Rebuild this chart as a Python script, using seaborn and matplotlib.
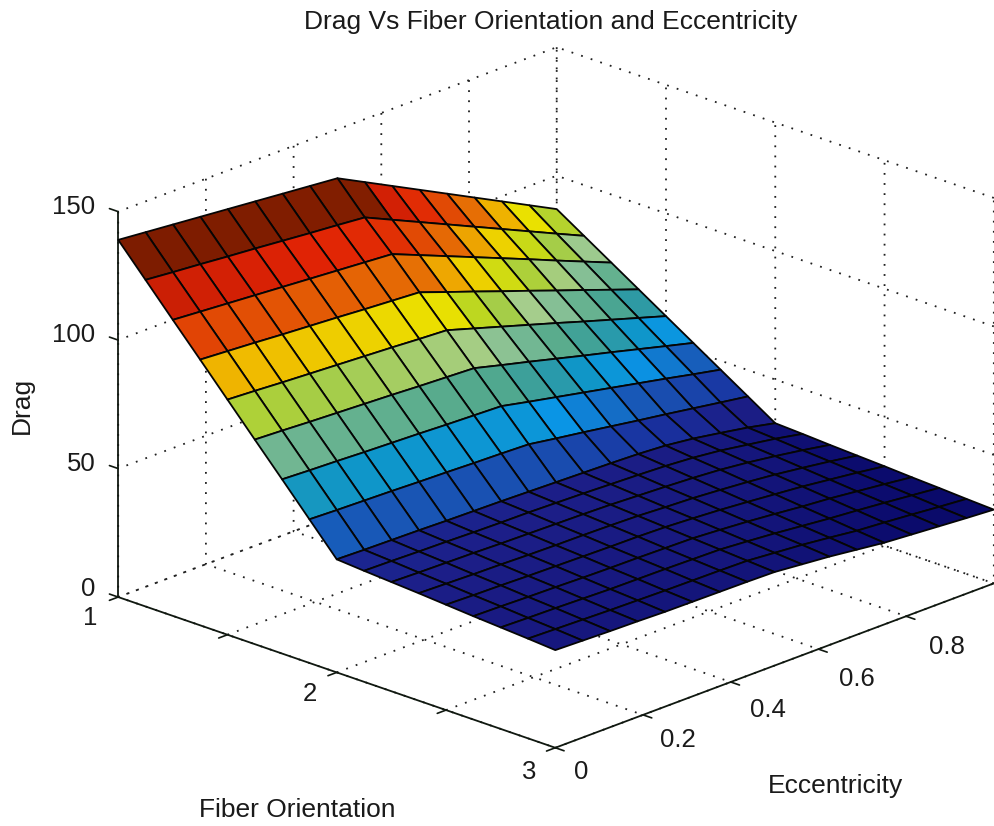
import matplotlib
matplotlib.use("Agg")
import matplotlib.pyplot as plt
import seaborn as sns
import numpy as np
from matplotlib.colors import LinearSegmentedColormap, Normalize
from mpl_toolkits.mplot3d import proj3d

fiber = [1, 1.125, 1.25, 1.375, 1.5, 1.625, 1.75, 1.875, 2, 2.125, 2.25, 2.375, 2.5, 2.625, 2.75, 2.875, 3]
ecc = [0, 0.0625, 0.125, 0.1875, 0.25, 0.3125, 0.375, 0.4375, 0.5, 0.5625, 0.625, 0.6875, 0.75, 0.8125, 0.875, 0.9375, 1]
drag = [
 [139,138,137,136,135,134,133,132,131,125.5,120,114.5,109,103.5,98,92.5,87],
 [127.1,126.1,125.2,124.2,123.3,122.3,121.3,120.4,119.4,114.5,109.6,104.7,99.8,94.9,90.0,85.1,80.25],
 [115.2,114.4,113.6,112.8,112,111.2,110.4,109.6,108.8,104.4,100,95.6,91.2,86.8,82.3,77.9,73.5],
 [103.4,102.7,102,101.2,100.5,99.8,99,98.3,97.6,93.7,89.9,86,82.2,78.3,74.5,70.6,66.75],
 [91.5,90.9,90.2,89.6,89,88.4,87.8,87.1,86.5,83.2,79.9,76.6,73.3,69.9,66.6,63.3,60],
 [79.6,79.1,78.5,78,77.5,77,76.4,75.9,75.4,72.6,69.9,67.1,64.3,61.6,58.8,56,53.25],
 [67.8,67.3,66.9,66.4,66,65.6,65.1,64.7,64.3,62,59.8,57.6,55.4,53.2,51,48.7,46.5],
 [55.9,55.5,55.2,54.9,54.5,54.2,53.8,53.5,53.1,51.4,49.8,48.1,46.4,44.8,43.1,41.4,39.75],
 [44,43.7,43.5,43.3,43,42.8,42.6,42.3,42,41.7,41.4,41,40.3,39,37.2,35.3,33],
 [43.2,43,42.7,42.5,42.2,42,41.9,41.6,41.3,40.9,40.5,40,39.2,38,36.3,34.6,32.5],
 [42.5,42.2,42,41.8,41.5,41.3,41.1,40.9,40.6,40.1,39.6,39,38.2,37,35.5,33.8,31.9],
 [41.8,41.5,41.2,41,40.7,40.5,40.4,40.2,39.9,39.3,38.8,38,37.1,36,34.6,33.1,31.4],
 [41,40.7,40.5,40.2,40,39.8,39.6,39.5,39.2,38.6,37.9,37,36,35,33.7,32.4,30.9],
 [40.2,40,39.7,39.5,39.2,39,38.9,38.7,38.5,37.8,37,36,34.9,34,32.8,31.6,30.3],
 [39.5,39.2,39,38.7,38.4,38.3,38.2,38,37.8,37,36.1,35,33.9,33,32,30.9,29.8],
 [38.8,38.5,38.2,37.9,37.7,37.5,37.4,37.3,37.1,36.2,35.3,34.1,32.8,32,31.1,30.1,29.2],
 [38,37.7,37.4,37.2,36.9,36.8,36.7,36.6,36.4,35.4,34.4,33.1,31.8,31,30.2,29.4,28.7],
]
color_levels = [28, 33, 42, 47, 55, 62, 67, 71, 76, 82, 86, 90, 94, 98, 103, 109, 115, 122, 128, 131, 139]
color_stops = ["#080864", "#0c0c6e", "#1c1e87", "#1932a0", "#1955b4", "#0a96e6", "#0f96c8", "#329ba0",
               "#55aa8c", "#82be96", "#a5cd8c", "#a5cd46", "#bed71e", "#ebe100", "#f0b900", "#e66e05",
               "#e14605", "#e12305", "#c81e05", "#821e00", "#7d1c00"]
fiber_ticks = [1, 1.5, 2, 2.5, 3]
fiber_labels = ["1", "", "2", "", "3"]
ecc_ticks = [0, 0.2, 0.4, 0.6, 0.8, 1]
ecc_labels = ["0", "0.2", "0.4", "0.6", "0.8", ""]
drag_ticks = [0, 50, 100, 150]

sns.set_theme(style="white")
plt.rcParams["font.family"] = ["Liberation Sans", "DejaVu Sans"]
INK = "#1a1a1a"
AXIS_INK = "#101810"

W, H = 994, 826
fig = plt.figure(figsize=(W / 100, H / 100), dpi=100)
S = 940.6
half = 0.5135 * S
cx, cy = 556, 397.5
ax = fig.add_axes([(cx - half) / W, (H - cy - half) / H, S / W, S / H], projection="3d", proj_type="ortho")
ax.patch.set_alpha(0)
ax.view_init(elev=21.07, azim=-46.2)
ax.set_box_aspect((607, 635, 414))
ax.set_xlim(1, 3, view_margin=0)
ax.set_ylim(0, 1, view_margin=0)
ax.set_zlim(0, 150, view_margin=0)

Y, X = np.meshgrid(ecc, fiber)
Z = np.array(drag)
lo, hi = color_levels[0], color_levels[-1]
cmap = LinearSegmentedColormap.from_list(
    "scan_jet", [((v - lo) / (hi - lo), c) for v, c in zip(color_levels, color_stops)], N=512)
fc = cmap(Normalize(lo, hi)(Z))
ax.plot_surface(X, Y, Z, facecolors=fc, rstride=1, cstride=1, shade=False,
                edgecolor="#050505", linewidth=1.3, antialiased=True)

ax.set_xticks(fiber_ticks, [""] * len(fiber_ticks))
ax.set_yticks(ecc_ticks, [""] * len(ecc_ticks))
ax.set_zticks(drag_ticks, [""] * len(drag_ticks))
for axis in (ax.xaxis, ax.yaxis, ax.zaxis):
    axis.pane.set_facecolor((1, 1, 1, 0))
    axis.pane.set_edgecolor((1, 1, 1, 0))
    axis.line.set_color(AXIS_INK)
    axis.line.set_linewidth(1.3)
    axis._axinfo["grid"].update(color="#202020", linewidth=1.3, linestyle=(0, (1, 4.6)))
    axis._axinfo["tick"].update(inward_factor=0.0, outward_factor=0.0)
ax.zaxis.set_ticks_position("lower")

# short outward tick marks, as the original axes draw them
tick_style = dict(color=AXIS_INK, linewidth=1.2)
for v in fiber_ticks:
    ax.plot([v, v], [0, -0.02], [0, 0], **tick_style)
for v in ecc_ticks:
    ax.plot([3, 3.04], [v, v], [0, 0], **tick_style)
for v in drag_ticks:
    ax.plot([1, 0.96], [0, 0], [v, v], **tick_style)

M = ax.get_proj()


def tick_text(x, y, z, text, dx, dy):
    px, py, _ = proj3d.proj_transform(x, y, z, M)
    ax.annotate(text, xy=(px, py), xycoords="data", xytext=(dx, -dy), textcoords="offset pixels",
                ha="center", va="center", fontsize=18.5, color=INK, annotation_clip=False)


for v, s, dx, dy in zip(fiber_ticks, fiber_labels, [-28, 0, -27, 0, -26], [21, 0, 22, 0, 24]):
    if s:
        tick_text(v, 0, 0, s, dx, dy)
for v, s, dx, dy in zip(ecc_ticks, ecc_labels, [26, 35, 37, 38, 41, 0], [24, 25, 28, 30, 31, 0]):
    if s:
        tick_text(3, v, 0, s, dx, dy)
for v, dx, dy in zip(drag_ticks, [-30, -37, -45, -45], [-8, -5, -5, -5]):
    tick_text(1, 0, v, str(v), dx, dy)

fig.text(297 / W, 1 - 810 / H, "Fiber Orientation", fontsize=19, color=INK, ha="center", va="center")
fig.text(836 / W, 1 - 786 / H, "Eccentricity", fontsize=19, color=INK, ha="center", va="center")
fig.text(22 / W, 1 - 405 / H, "Drag", fontsize=19, color=INK, ha="center", va="center", rotation=90)
fig.suptitle("Drag Vs Fiber Orientation and Eccentricity", x=551 / W, y=1 - 22 / H, va="center",
             fontsize=19, color=INK)
fig.savefig("out.png", dpi=100, facecolor="white")
